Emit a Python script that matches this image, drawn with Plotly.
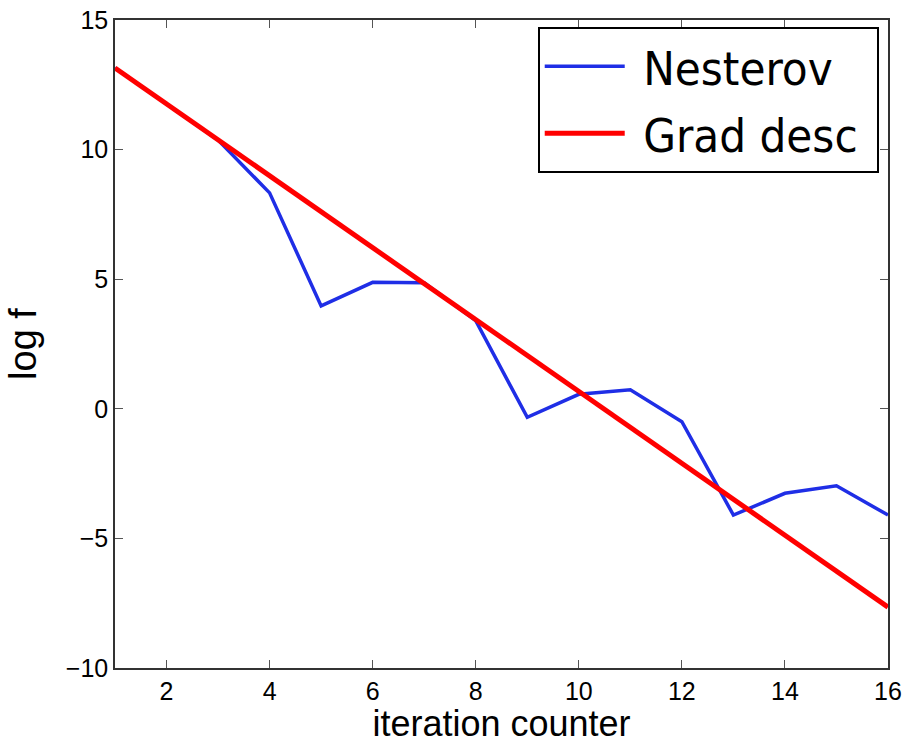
import plotly.graph_objects as go

iterations = [1, 2, 3, 4, 5, 6, 7, 8, 9, 10, 11, 12, 13, 14, 15, 16]
nesterov = [13.15, 11.76, 10.37, 8.33, 3.97, 4.88, 4.86, 3.40, -0.33, 0.56, 0.73,
            -0.50, -4.10, -3.26, -2.97, -4.10]
grad_desc = [13.15, 11.76, 10.38, 8.99, 7.60, 6.22, 4.83, 3.44, 2.05, 0.67, -0.72,
             -2.11, -3.49, -4.88, -6.27, -7.65]

x_ticks = [2, 4, 6, 8, 10, 12, 14, 16]
y_ticks = [-10, -5, 0, 5, 10, 15]

NB = "\u00a0"

fig = go.Figure()
fig.add_trace(go.Scatter(x=iterations, y=nesterov, mode="lines", name=NB + "Nesterov",
                         legendgroup="a",
                         line=dict(color="#1f2ee6", width=3.5)))
fig.add_trace(go.Scatter(x=iterations, y=grad_desc, mode="lines", name=NB + "Grad desc" + NB,
                         legendgroup="b",
                         line=dict(color="#ff0000", width=5)))

axis_common = dict(showline=True, linecolor="#333333", linewidth=1.5, mirror="ticks",
                   ticks="inside", ticklen=8, tickcolor="#555555", tickwidth=1,
                   showgrid=False, zeroline=False, automargin=False,
                   tickfont=dict(family="Liberation Sans, Arial, sans-serif", size=25, color="black"))

fig.update_xaxes(range=[1, 16], tickvals=x_ticks,
                 title=dict(text="iteration counter", standoff=7,
                            font=dict(family="Liberation Sans, Arial, sans-serif", size=36, color="black")),
                 **axis_common)
fig.update_yaxes(range=[-10, 15], tickvals=y_ticks,
                 ticktext=[("\u2212" + str(-v)) if v < 0 else str(v) for v in y_ticks],
                 title=dict(text="log f", standoff=18,
                            font=dict(family="Liberation Sans, Arial, sans-serif", size=38, color="black")),
                 **axis_common)

fig.update_layout(
    width=909, height=744,
    margin=dict(l=115, r=21, t=20, b=76),
    plot_bgcolor="white", paper_bgcolor="white",
    showlegend=True,
    legend=dict(x=0.988, y=0.989, xanchor="right", yanchor="top",
                bgcolor="white", bordercolor="black", borderwidth=2,
                font=dict(family="DejaVu Sans Condensed, DejaVu Sans, Verdana, sans-serif", size=47, color="black"),
                itemwidth=80, tracegroupgap=3),
)

fig.write_html("out.html")
